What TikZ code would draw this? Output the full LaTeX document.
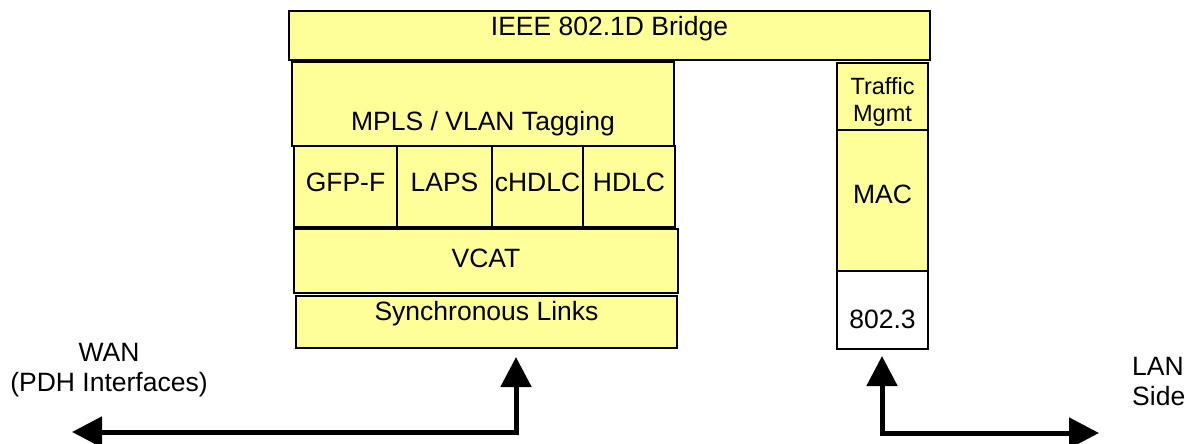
\documentclass[tikz,border=0pt]{standalone}
\usepackage{fontspec}
\setmainfont{Liberation Sans}
\usetikzlibrary{arrows.meta}
\definecolor{lyellow}{HTML}{FFFF99}
\begin{document}
\begin{tikzpicture}[x=1pt,y=-1pt,
  box/.style={draw=black,line width=1.3pt,fill=lyellow,inner sep=0pt,outer sep=0pt},
  wbox/.style={box,fill=white},
  txt/.style={inner sep=0pt,anchor=base,font=\fontsize{26.5}{30}\selectfont},
  stxt/.style={inner sep=0pt,anchor=base,align=center,font=\fontsize{23.5}{27}\selectfont},
  link/.style={line width=5pt,{Triangle[length=30pt,width=30pt]}-{Triangle[length=30pt,width=30pt]}}]
\useasboundingbox (0,0) rectangle (1185,444);
% WAN stack
\node[box,minimum width=641pt,minimum height=49pt] (bridge) at (609.5,35.5) {};
\node[box,minimum width=382pt,minimum height=84pt] (mpls) at (483,104) {};
\node[box,minimum width=103pt,minimum height=81pt] (gfp) at (345.5,186.5) {};
\node[box,minimum width=95pt,minimum height=81pt] (laps) at (444.5,186.5) {};
\node[box,minimum width=91pt,minimum height=81pt] (chdlc) at (537.5,186.5) {};
\node[box,minimum width=92pt,minimum height=81pt] (hdlc) at (629,186.5) {};
\node[box,minimum width=384pt,minimum height=64pt] (vcat) at (486,261) {};
\node[box,minimum width=381pt,minimum height=52pt] (sync) at (486.5,322) {};
% LAN stack
\node[box,minimum width=91pt,minimum height=67pt] (traffic) at (882.5,96.5) {};
\node[box,minimum width=91pt,minimum height=141pt] (mac) at (882.5,200.5) {};
\node[wbox,minimum width=91pt,minimum height=78pt] (e8023) at (882.5,310) {};
% labels
\node[txt] (tbridge) at (609.5,36) {IEEE 802.1D Bridge};
\node[txt] (tmpls) at (483,130) {MPLS / VLAN Tagging};
\node[txt] (tgfp) at (345.5,191) {GFP-F};
\node[txt] (tlaps) at (444.5,191) {LAPS};
\node[txt] (tchdlc) at (537.5,191) {cHDLC};
\node[txt] (thdlc) at (629,191) {HDLC};
\node[txt] (tvcat) at (486,267) {VCAT};
\node[txt] (tsync) at (486.5,320) {Synchronous Links};
\node[stxt] (ttraffic) at (882.5,121) {Traffic\\Mgmt};
\node[txt] (tmac) at (882.5,203) {MAC};
\node[txt] (t8023) at (882.5,328) {802.3};
\node[txt,align=center] (twan) at (109,391) {WAN\\(PDH Interfaces)};
\node[txt,align=left,anchor=base west] (tlan) at (1132,405) {LAN\\Side};
% connectors
\coordinate (wanend) at (72,432);
\coordinate (wantip) at (516,357);
\coordinate (lantip) at (882,356);
\coordinate (lanend) at (1099,433);
\draw[link] (wanend) -| (wantip);
\draw[link] (lantip) |- (lanend);
\end{tikzpicture}
\end{document}
